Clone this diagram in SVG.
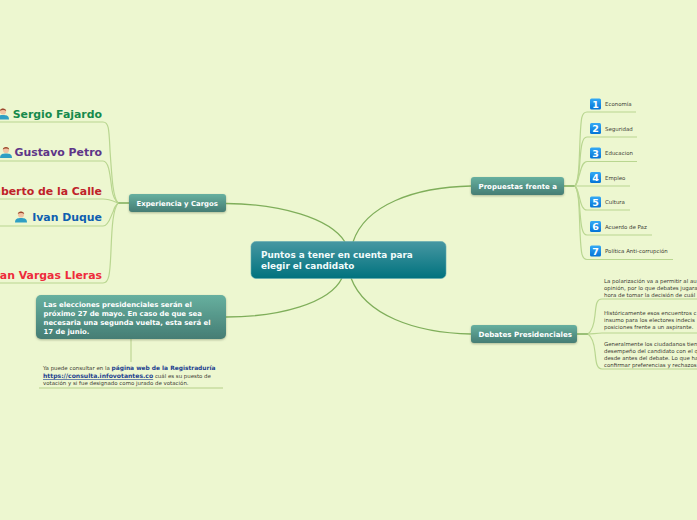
<svg xmlns="http://www.w3.org/2000/svg" width="697" height="520" viewBox="0 0 697 520">
<style>
text{font-family:"DejaVu Sans",Verdana,sans-serif}
.m{fill:none;stroke:#7fae5a;stroke-width:1.3}
.s{fill:none;stroke:#b9d690;stroke-width:1.2}
.h{fill:none;stroke:#7fae5a;stroke-width:1.6}
.t{font-weight:700;fill:#fff;font-size:6.9px}
.c{font-weight:700;fill:#f2fbfb;font-size:8.85px}
.n{font-size:5.45px;fill:#3c3c34}
.p{font-size:10.9px;font-weight:700;text-anchor:end}
.b{font-size:9.5px;font-weight:700;fill:#fff;text-anchor:middle}
.l{font-size:5.9px;font-weight:700;fill:#1c3f8f}
.u{font-size:6.1px;font-weight:700;fill:#1c3f8f}
</style>
<defs>
<linearGradient id="g1" x1="0" y1="0" x2="0" y2="1"><stop offset="0" stop-color="#67b09f"/><stop offset="1" stop-color="#457d74"/></linearGradient>
<linearGradient id="g2" x1="0" y1="0" x2="0" y2="1"><stop offset="0" stop-color="#4797a2"/><stop offset="1" stop-color="#00727e"/></linearGradient>
<linearGradient id="g3" x1="0" y1="0" x2="0" y2="1"><stop offset="0" stop-color="#35aaf5"/><stop offset="1" stop-color="#0473d6"/></linearGradient>
<filter id="sh" x="-10%" y="-20%" width="120%" height="150%"><feDropShadow dx="0" dy="1" stdDeviation="1" flood-color="#6a7a5a" flood-opacity=".5"/></filter>
<g id="person"><path d="M-6 6C-6 2-3 1.500 0 1.500S6 2 6 6Z" fill="#2f9fc4"/><circle cx="0" cy="-2" r="3.100" fill="#f1c3a3"/><path d="M-3.200-2.500C-3.200-6 3.200-6 3.200-2.500C1.500-4-1.500-4-3.200-2.500Z" fill="#9c4a2e"/></g>
</defs>
<rect width="697" height="520" fill="#edf7d0"/>
<g id="connectors">
<path class="m" d="M226 203.500C280 204 330 218 345 242"/>
<path class="m" d="M226 317C280 317 330 303 342 278"/>
<path class="m" d="M471 186C415 187 365 205 353 242"/>
<path class="m" d="M471 334C415 333 365 315 351 278"/>
<path class="h" d="M118 203H129M564 186H575M577 334H588"/>
<path class="s" d="M0 122H103C109 122 109 130 110 150C112 180 113 197 118 203"/>
<path class="s" d="M0 161H103C109 161 110 175 112 190C113 197 116 201 118 203"/>
<path class="s" d="M0 199H103C109 199 113 201 118 203"/>
<path class="s" d="M0 226H103C109 226 111 215 113 212C114 208 116 205 118 203"/>
<path class="s" d="M0 283H103C109 283 110 275 111 250C112 225 113 210 118 203"/>
<path class="s" d="M636 112H587C581 112 581 120 580 140C579 165 579 180 575 186"/>
<path class="s" d="M637 137H587C582 137 581 147 580 160C579 175 578 182 575 186"/>
<path class="s" d="M637 161.500H587C582 161.500 581 170 579 176C578 181 577 184 575 186"/>
<path class="s" d="M630 186H575"/>
<path class="s" d="M630 210H587C582 210 581 203 579 196C578 191 577 188 575 186"/>
<path class="s" d="M652 235H587C582 235 581 225 580 212C579 198 578 190 575 186"/>
<path class="s" d="M673 259.500H587C581 259.500 581 250 580 232C579 205 579 192 575 186"/>
<path class="s" d="M697 299H602C596 299 596 306 595 315C594 325 592 331 588 334"/>
<path class="s" d="M697 333H602C597 333 592 334 588 334"/>
<path class="s" d="M697 369H602C596 369 596 360 595 352C594 342 592 337 588 334"/>
<path fill="none" stroke="#c7dca0" stroke-width="1.500" d="M131 339V362"/>
</g>
<g id="central"><rect x="251" y="241.500" width="195" height="37" rx="5" fill="url(#g2)" stroke="#5fa8b0" stroke-width=".6"/><text class="c" x="261" y="258">Puntos a tener en cuenta para</text><text class="c" x="261" y="269">elegir el candidato</text></g>
<g id="experiencia"><rect x="129" y="194" width="97" height="18" rx="3" fill="url(#g1)" filter="url(#sh)"/><text class="t" x="136.500" y="206">Experiencia y Cargos</text></g>
<g id="propuestas"><rect x="471" y="177" width="93" height="18" rx="3" fill="url(#g1)" filter="url(#sh)"/><text class="t" x="478.500" y="189" style="font-size:7px">Propuestas frente a</text></g>
<g id="debates"><rect x="471" y="325" width="106" height="18" rx="3" fill="url(#g1)" filter="url(#sh)"/><text class="t" x="478.500" y="337" style="font-size:7.100px">Debates Presidenciales</text></g>
<g id="elecciones"><rect x="36" y="295" width="190" height="44" rx="5" fill="url(#g1)" filter="url(#sh)"/>
<text class="t" x="43.500" y="307">Las elecciones presidenciales serán el</text>
<text class="t" x="43.500" y="316">próximo 27 de mayo. En caso de que sea</text>
<text class="t" x="43.500" y="324.500">necesaria una segunda vuelta, esta será el</text>
<text class="t" x="43.500" y="334">17 de junio.</text></g>
<g id="registraduria">
<path fill="none" stroke="#c7dca0" stroke-width="1.500" d="M39 388H223"/>
<text class="n" x="43" y="370">Ya puede consultar en la <tspan class="l">página web de la Registraduría</tspan></text>
<text class="n" x="43" y="378"><tspan class="u" text-decoration="underline">https://consulta.infovotantes.co</tspan> cuál es su puesto de</text>
<text class="n" x="43" y="385">votación y si fue designado como jurado de votación.</text></g>
<g id="sergio"><use href="#person" x="3" y="113.500"/><text class="p" x="102" y="118" fill="#168a4c">Sergio Fajardo</text></g>
<g id="petro"><use href="#person" x="6" y="152"/><text class="p" x="102" y="156" fill="#5d3588">Gustavo Petro</text></g>
<g id="calle"><text class="p" x="102" y="195" fill="#bf2229">Humberto de la Calle</text></g>
<g id="duque"><use href="#person" x="21" y="216.500"/><text class="p" x="102" y="221" fill="#0f5fb0">Ivan Duque</text></g>
<g id="vargas"><text class="p" x="102" y="279" fill="#ee2b3b">German Vargas Lleras</text></g>
<g id="p1"><rect x="590" y="98.500" width="11" height="11" rx="1.500" fill="url(#g3)"/><text class="b" x="595.500" y="107.500">1</text><text class="n" x="605" y="106">Economía</text></g>
<g id="p2"><rect x="590" y="123" width="11" height="11" rx="1.500" fill="url(#g3)"/><text class="b" x="595.500" y="132">2</text><text class="n" x="605" y="131">Seguridad</text></g>
<g id="p3"><rect x="590" y="147.500" width="11" height="11" rx="1.500" fill="url(#g3)"/><text class="b" x="595.500" y="156.500">3</text><text class="n" x="605" y="155">Educacion</text></g>
<g id="p4"><rect x="590" y="172" width="11" height="11" rx="1.500" fill="url(#g3)"/><text class="b" x="595.500" y="181">4</text><text class="n" x="605" y="180">Empleo</text></g>
<g id="p5"><rect x="590" y="196.500" width="11" height="11" rx="1.500" fill="url(#g3)"/><text class="b" x="595.500" y="205.500">5</text><text class="n" x="605" y="204">Cultura</text></g>
<g id="p6"><rect x="590" y="221" width="11" height="11" rx="1.500" fill="url(#g3)"/><text class="b" x="595.500" y="230">6</text><text class="n" x="605" y="229">Acuerdo de Paz</text></g>
<g id="p7"><rect x="590" y="245.500" width="11" height="11" rx="1.500" fill="url(#g3)"/><text class="b" x="595.500" y="254.500">7</text><text class="n" x="605" y="253">Política Anti-corrupción</text></g>
<g id="d1"><text class="n" x="604" y="283">La polarización va a permitir al au</text><text class="n" x="604" y="289.500">opinión, por lo que debates jugara</text><text class="n" x="604" y="296.500">hora de tomar la decisión de cuál</text></g>
<g id="d2"><text class="n" x="604" y="315">Históricamente esos encuentros c</text><text class="n" x="604" y="321.500">insumo para los electores indecis</text><text class="n" x="604" y="328.500">posiciones frente a un aspirante.</text></g>
<g id="d3"><text class="n" x="604" y="346">Generalmente los ciudadanos tien</text><text class="n" x="604" y="352.500">desempeño del candidato con el q</text><text class="n" x="604" y="360">desde antes del debate. Lo que ha</text><text class="n" x="604" y="366.500">confirmar preferencias y rechazos</text></g>
</svg>
